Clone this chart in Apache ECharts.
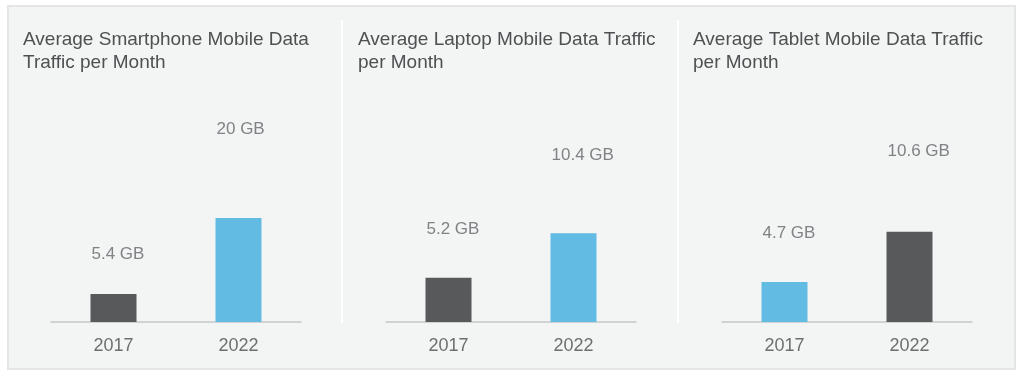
<!DOCTYPE html>
<html>
<head>
<meta charset="utf-8">
<script src="https://cdn.jsdelivr.net/npm/echarts@6/dist/echarts.min.js"></script>
<style>
  html, body { margin: 0; padding: 0; background: #fff; }
  #chart { width: 1024px; height: 376px; }
</style>
</head>
<body>
<div id="chart"></div>
<script>
  // data
  const years = ['2017', '2022'];
  const smartphoneGB = [5.4, 20];
  const laptopGB = [5.2, 10.4];
  const tabletGB = [4.7, 10.6];
  const titles = [
    'Average Smartphone Mobile Data\nTraffic per Month',
    'Average Laptop Mobile Data Traffic\nper Month',
    'Average Tablet Mobile Data Traffic\nper Month'
  ];

  const DARK = '#58595b';
  const BLUE = '#62bbe3';

  // per panel layout / style
  const panels = [
    {values: smartphoneGB, left: 51, titleLeft: 23, max: 50, colors: [DARK, BLUE], gaps: [31, 80]},
    {values: laptopGB, left: 386, titleLeft: 358, max: 30.5, colors: [DARK, BLUE], gaps: [40, 70]},
    {values: tabletGB, left: 722, titleLeft: 693, max: 30.5, colors: [BLUE, DARK], gaps: [40, 72]}
  ];

  const font = '"Liberation Sans", Arial, sans-serif';

  let option = {
    animation: false,
    backgroundColor: '#fff',
    textStyle: {fontFamily: font},
    graphic: [
      {type: 'rect', shape: {x: 8, y: 6, width: 1007, height: 363},
        style: {fill: '#f3f4f4', stroke: '#e4e5e5', lineWidth: 2}, z: -10},
      {type: 'rect', shape: {x: 341, y: 20, width: 2, height: 303}, style: {fill: '#fff'}, z: -9},
      {type: 'rect', shape: {x: 677, y: 20, width: 2, height: 303}, style: {fill: '#fff'}, z: -9}
    ],
    title: [],
    grid: [],
    xAxis: [],
    yAxis: [],
    series: []
  };

  panels.forEach((p, i) => {
    option.title.push({
      text: titles[i],
      left: p.titleLeft,
      top: 28,
      padding: 0,
      textStyle: {
        fontFamily: font,
        fontSize: 19,
        fontWeight: 'normal',
        color: '#4f5052',
        lineHeight: 23
      }
    });
    option.grid.push({left: p.left, width: 250, top: 62, bottom: 54});
    option.xAxis.push({
      type: 'category',
      gridIndex: i,
      data: years,
      axisTick: {show: false},
      axisLine: {lineStyle: {color: '#c6c7c7', width: 1.5}},
      axisLabel: {
        margin: 15,
        fontFamily: font,
        fontSize: 18,
        color: '#6d6e70'
      }
    });
    option.yAxis.push({
      type: 'value',
      gridIndex: i,
      min: 0,
      max: p.max,
      show: false,
      splitLine: {show: false}
    });
    option.series.push({
      type: 'bar',
      xAxisIndex: i,
      yAxisIndex: i,
      barWidth: 46,
      data: p.values.map((v, j) => ({
        value: v,
        itemStyle: {color: p.colors[j]},
        label: {distance: p.gaps[j]}
      })),
      label: {
        show: true,
        position: 'top',
        align: 'left',
        offset: [-22, 0],
        formatter: '{c} GB',
        fontFamily: font,
        fontSize: 17,
        color: '#808285'
      }
    });
  });

  let chart = echarts.init(document.getElementById('chart'));
  chart.setOption(option);
</script>
</body>
</html>
